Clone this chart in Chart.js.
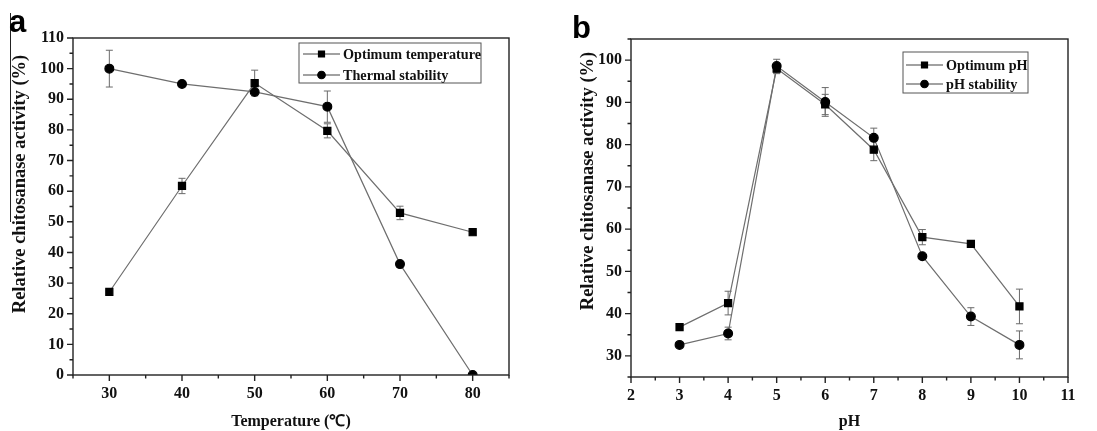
<!DOCTYPE html>
<html>
<head>
<meta charset="utf-8">
<script src="https://cdn.jsdelivr.net/npm/chart.js@4.4.1/dist/chart.umd.min.js"></script>
<style>
  body { margin: 0; background: #fff; width: 1097px; height: 431px; position: relative; overflow: hidden; }
  .panel { position: absolute; top: 0; }
  #wrapA { left: 0; }
  #wrapB { left: 550px; }
  .tag { position: absolute; font: bold 31px 'Liberation Sans', Arial, sans-serif; line-height: 1; color: #000; }
  .edge { position: absolute; left: 10px; top: 13px; width: 1px; height: 209px; background: #222; }
</style>
</head>
<body>
<div class="panel" id="wrapA"><canvas id="chartA" width="550" height="431"></canvas></div>
<div class="panel" id="wrapB"><canvas id="chartB" width="547" height="431"></canvas></div>
<div class="edge"></div>
<div class="tag" style="left:9px;top:6px">a</div>
<div class="tag" style="left:572px;top:12px">b</div>
<script>
// Panel a: temperature
const tempC = [30, 40, 50, 60, 70, 80];
const optTemp = [27.1, 61.7, 95.3, 79.7, 52.9, 46.6];
const optTempErr = [0, 2.5, 4.2, 2.3, 2.2, 0];
const thermStab = [100, 95, 92.4, 87.6, 36.2, 0];
const thermStabErr = [6, 0, 0, 5.1, 0, 0];

// Panel b: pH
const phVals = [3, 4, 5, 6, 7, 8, 9, 10];
const optPh = [36.8, 42.5, 98.0, 89.5, 78.8, 58.1, 56.5, 41.7];
const optPhErr = [0, 2.8, 1.2, 2.4, 2.6, 1.8, 0, 4.1];
const phStab = [32.6, 35.3, 98.6, 90.1, 81.6, 53.6, 39.3, 32.6];
const phStabErr = [0, 1.5, 1.6, 3.4, 2.3, 0, 2.1, 3.3];

const yTitle = 'Relative chitosanase activity (%)';

const serif = "'Liberation Serif', 'Times New Roman', serif";
const tickFont = { family: serif, size: 16, weight: 'bold' };
const titleFont = { family: serif, size: 16, weight: 'bold', lineHeight: 1.2 };

const toPoints = (xs, ys) => xs.map((x, i) => ({ x: x, y: ys[i] }));

// error bars, drawn under the markers
const errorBars = {
  id: 'errorBars',
  beforeDatasetsDraw(chart) {
    const { ctx, scales: { x, y } } = chart;
    ctx.save();
    ctx.strokeStyle = '#6a6a6a';
    ctx.lineWidth = 1;
    chart.data.datasets.forEach(ds => {
      ds.errors.forEach((e, i) => {
        if (!e) return;
        const px = x.getPixelForValue(ds.data[i].x);
        const top = y.getPixelForValue(ds.data[i].y + e);
        const bot = y.getPixelForValue(ds.data[i].y - e);
        ctx.beginPath();
        ctx.moveTo(px, top); ctx.lineTo(px, bot);
        ctx.moveTo(px - 3.5, top); ctx.lineTo(px + 3.5, top);
        ctx.moveTo(px - 3.5, bot); ctx.lineTo(px + 3.5, bot);
        ctx.stroke();
      });
    });
    ctx.restore();
  }
};

// box frame plus major/minor tick marks pointing out, and the y title
const frameTicks = {
  id: 'frameTicks',
  afterDraw(chart, args, opts) {
    const { ctx, chartArea: a, scales: { x, y } } = chart;
    const isMajor = (v, m) => Math.abs(v / m - Math.round(v / m)) < 1e-6;
    ctx.save();
    ctx.strokeStyle = '#222';
    ctx.lineWidth = 1.4;
    ctx.strokeRect(a.left, a.top, a.right - a.left, a.bottom - a.top);
    ctx.beginPath();
    for (let v = x.min; v <= x.max + 1e-6; v += opts.xMinor) {
      const px = x.getPixelForValue(v);
      ctx.moveTo(px, a.bottom);
      ctx.lineTo(px, a.bottom + (isMajor(v, opts.xMajor) ? 6 : 3.5));
    }
    for (let v = y.min; v <= y.max + 1e-6; v += opts.yMinor) {
      const py = y.getPixelForValue(v);
      ctx.moveTo(a.left, py);
      ctx.lineTo(a.left - (isMajor(v, opts.yMajor) ? 6 : 3.5), py);
    }
    ctx.stroke();

    // rotated y title (sits a bit above the axis middle in the original)
    ctx.translate(opts.titleX, opts.titleY);
    ctx.rotate(-Math.PI / 2);
    ctx.fillStyle = '#111';
    ctx.font = 'bold 18.5px ' + serif;
    ctx.textAlign = 'center';
    ctx.textBaseline = 'middle';
    ctx.fillText(yTitle, 0, 0);
    ctx.restore();
  }
};

// legend in a box: line - marker - line, then label
const boxLegend = {
  id: 'boxLegend',
  afterDraw(chart, args, opts) {
    const { ctx, chartArea: a } = chart;
    const left = a.right - opts.right - opts.width;
    const top = a.top + opts.top;
    ctx.save();
    ctx.strokeStyle = '#555';
    ctx.lineWidth = 1;
    ctx.strokeRect(left, top, opts.width, opts.height);
    chart.data.datasets.forEach((ds, i) => {
      const cy = top + opts.rowStart + i * opts.rowGap;
      ctx.strokeStyle = '#444';
      ctx.lineWidth = 1.2;
      ctx.beginPath();
      ctx.moveTo(left + opts.lineFrom, cy);
      ctx.lineTo(left + opts.lineTo, cy);
      ctx.stroke();
      ctx.fillStyle = '#000';
      ctx.strokeStyle = '#000';
      Chart.helpers.drawPoint(ctx, { pointStyle: ds.pointStyle, radius: ds.pointRadius * 0.85, rotation: 0, borderWidth: 1 },
        left + (opts.lineFrom + opts.lineTo) / 2, cy);
      ctx.fillStyle = '#111';
      ctx.font = 'bold 14.2px ' + serif;
      ctx.textBaseline = 'middle';
      ctx.fillText(ds.label, left + opts.textAt, cy + 1);
    });
    ctx.restore();
  }
};

function series(label, xs, ys, errs, style, r) {
  return {
    label: label,
    data: toPoints(xs, ys),
    errors: errs,
    borderColor: '#6e6e6e',
    borderWidth: 1.2,
    pointStyle: style,
    pointRadius: r,
    pointBackgroundColor: '#000',
    pointBorderColor: '#000',
    tension: 0
  };
}

function makeChart(id, cfg) {
  return new Chart(document.getElementById(id), {
    type: 'line',
    data: { datasets: cfg.datasets },
    plugins: [errorBars, frameTicks, boxLegend],
    options: {
      responsive: false,
      animation: false,
      devicePixelRatio: 1,
      layout: { padding: { left: 0, top: cfg.padTop, right: cfg.padRight, bottom: 0 } },
      plugins: {
        legend: { display: false },
        tooltip: { enabled: false },
        frameTicks: cfg.ticks,
        boxLegend: cfg.legend
      },
      scales: {
        x: {
          type: 'linear',
          min: cfg.xMin, max: cfg.xMax,
          grid: { display: false, drawTicks: false },
          border: { display: false },
          ticks: {
            stepSize: cfg.ticks.xMinor, autoSkip: false, maxRotation: 0, padding: 9,
            color: '#111', font: tickFont,
            callback: v => (Math.abs(v / cfg.ticks.xMajor - Math.round(v / cfg.ticks.xMajor)) < 1e-6 ? v : '')
          },
          title: { display: true, text: cfg.xTitle, color: '#111', font: titleFont, padding: { top: 0, bottom: 0 } },
          afterFit: s => { s.height = cfg.xHeight; }
        },
        y: {
          min: cfg.yMin, max: cfg.yMax,
          grid: { display: false, drawTicks: false },
          border: { display: false },
          ticks: {
            stepSize: cfg.ticks.yMinor, autoSkip: false, padding: 9,
            color: '#111', font: tickFont,
            callback: v => (v % cfg.ticks.yMajor === 0 ? v : '')
          },
          title: { display: false },
          afterFit: s => { s.width = cfg.yWidth; }
        }
      }
    }
  });
}

makeChart('chartA', {
  datasets: [
    series('Optimum temperature', tempC, optTemp, optTempErr, 'rect', 5),
    series('Thermal stability', tempC, thermStab, thermStabErr, 'circle', 4.4)
  ],
  xMin: 25, xMax: 85, yMin: 0, yMax: 110,
  xTitle: 'Temperature (\u2103)',
  padTop: 38, padRight: 41, xHeight: 56, yWidth: 73,
  ticks: { xMinor: 5, xMajor: 10, yMinor: 5, yMajor: 10, titleX: 20, titleY: 184 },
  legend: { right: 28, top: 5, width: 182, height: 40, rowStart: 11, rowGap: 21, lineFrom: 4, lineTo: 41, textAt: 44 }
});

makeChart('chartB', {
  datasets: [
    series('Optimum pH', phVals, optPh, optPhErr, 'rect', 5),
    series('pH stability', phVals, phStab, phStabErr, 'circle', 4.4)
  ],
  xMin: 2, xMax: 11, yMin: 25, yMax: 105,
  xTitle: 'pH',
  padTop: 39, padRight: 29, xHeight: 54, yWidth: 81,
  ticks: { xMinor: 0.5, xMajor: 1, yMinor: 5, yMajor: 10, titleX: 38, titleY: 181 },
  legend: { right: 40, top: 13, width: 125, height: 41, rowStart: 13, rowGap: 19, lineFrom: 3, lineTo: 40, textAt: 43 }
});
</script>
</body>
</html>
